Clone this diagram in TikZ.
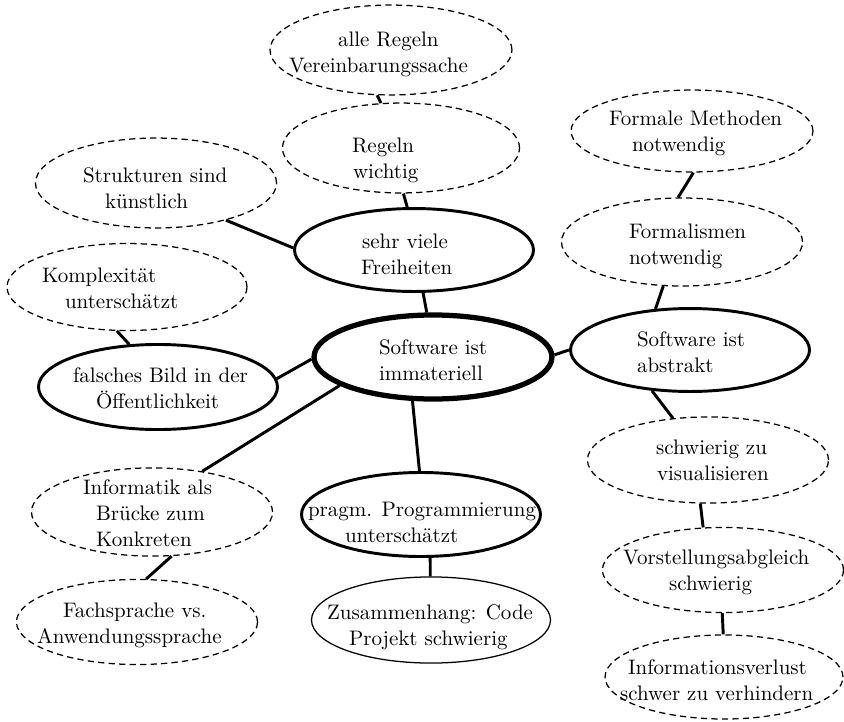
\documentclass[tikz,border=0pt]{standalone}
\usetikzlibrary{shapes.geometric}
\newlength\pxu \setlength\pxu{0.4762pt}
\newcommand\Lx[2]{\makebox[0pt][l]{\hspace*{#1\pxu}#2}}
\newcommand\Tb[2][-4]{\raisebox{-#1\pxu}[0pt][0pt]{\begin{tabular}[t]{@{}c@{}}#2\end{tabular}}}
\renewcommand\arraystretch{1.05}
\begin{document}
\begin{tikzpicture}[x=0.4762pt, y=-0.4762pt,
  ell/.style={ellipse, inner sep=0pt, minimum width=114.5pt, minimum height=41pt},
  dsh/.style={ell, draw, line width=0.6pt, dash pattern=on 3pt off 2pt},
  thk/.style={ell, draw, line width=1.4pt},
  thkr/.style={ell, draw, line width=2.5pt},
  thn/.style={ell, draw, line width=0.6pt},
  link/.style={line width=1.4pt}]
\useasboundingbox (0,0) rectangle (844,722);

\node[dsh, minimum width=115.2pt, minimum height=42.8pt] (A) at (391,50) {\Tb[-4]{\Lx{-53}{alle Regeln}\\\Lx{-102}{Vereinbarungssache}}};
\node[dsh, minimum width=112.9pt, minimum height=42.8pt] (B) at (401,148) {\Tb[4]{\Lx{-49}{Regeln}\\\Lx{-48}{wichtig}}};
\node[thk, minimum width=113.8pt, minimum height=39.5pt] (C) at (414,250) {\Tb[-2]{\Lx{-52}{sehr viele}\\\Lx{-53}{Freiheiten}}};
\node[thkr, minimum width=113.3pt, minimum height=40pt] (D) at (433,357) {\Tb[-3]{\Lx{-54}{Software ist}\\\Lx{-54}{immateriell}}};
\node[dsh, minimum width=114.8pt, minimum height=42.8pt] (E) at (156,183) {\Tb[-1]{\Lx{-73}{Strukturen sind}\\\Lx{-51}{künstlich}}};
\node[dsh, minimum width=114.3pt, minimum height=41.4pt] (F) at (127,287) {\Tb[-5]{\Lx{-85}{Komplexität}\\\Lx{-62}{unterschätzt}}};
\node[thk, minimum width=113.8pt, minimum height=40.5pt] (G) at (158,387) {\Tb[-5]{\Lx{-85}{falsches Bild in der}\\\Lx{-62}{Öffentlichkeit}}};
\node[dsh, minimum width=115.2pt, minimum height=39pt] (H) at (692,131) {\Tb[-6]{\Lx{-83}{Formale Methoden}\\\Lx{-60}{notwendig}}};
\node[dsh, minimum width=114.8pt, minimum height=41.9pt] (I) at (682,242) {\Tb[-4]{\Lx{-53}{Formalismen}\\\Lx{-53}{notwendig}}};
\node[thk, minimum width=113.8pt, minimum height=39.5pt] (J) at (690,350) {\Tb[-4]{\Lx{-53}{Software ist}\\\Lx{-53}{abstrakt}}};
\node[dsh, minimum width=114.8pt, minimum height=41pt] (K) at (708,460) {\Tb[-6]{\Lx{-52}{schwierig zu}\\\Lx{-51}{visualisieren}}};
\node[dsh, minimum width=114.8pt, minimum height=40.5pt] (L) at (723,570) {\Tb[-6]{\Lx{-100}{Vorstellungsabgleich}\\\Lx{-54}{schwierig}}};
\node[dsh, minimum width=113.3pt, minimum height=40pt] (M) at (724,677) {\Tb[-3]{\Lx{-96}{Informationsverlust}\\\Lx{-104}{schwer zu verhindern}}};
\node[dsh, minimum width=114.8pt, minimum height=42pt] (N) at (152,512) {\Tb[-18]{\Lx{-69}{Informatik als}\\\Lx{-56}{Brücke zum}\\\Lx{-56}{Konkreten}}};
\node[dsh, minimum width=114.8pt, minimum height=40.5pt] (O) at (137,622) {\Tb[-5]{\Lx{-74}{Fachsprache vs.}\\\Lx{-100}{Anwendungssprache}}};
\node[thk, minimum width=113.8pt, minimum height=40pt] (P) at (421,514.5) {\Tb[2]{\Lx{-113}{pragm. Programmierung}\\\Lx{-76}{unterschätzt}}};
\node[thn, minimum width=113.8pt, minimum height=41pt] (Q) at (431,620) {\Tb[-1]{\Lx{-104}{Zusammenhang: Code}\\\Lx{-82}{Projekt schwierig}}};

\draw[link] (A.-107) -- (B.114);
\draw[link] (B.-87.5) -- (C.99);
\draw[link] (C.-78) -- (D.98);
\draw[link] (E.-28.6) -- (C.179.5);
\draw[link] (F.-103) -- (G.124);
\draw[link] (G.4.8) -- (D.181);
\draw[link] (D.-163.4) -- (N.39);
\draw[link] (D.-115) -- (P.92.6);
\draw[link] (P.-78.3) -- (Q.91.3);
\draw[link] (N.-66) -- (O.78);
\draw[link] (H.-88.6) -- (I.95.2);
\draw[link] (I.-113.4) -- (J.130.2);
\draw[link] (D.1.4) -- (J.180.5);
\draw[link] (J.-133.5) -- (K.130);
\draw[link] (K.-100.5) -- (L.115);
\draw[link] (L.-91.4) -- (M.91.4);
\end{tikzpicture}
\end{document}
